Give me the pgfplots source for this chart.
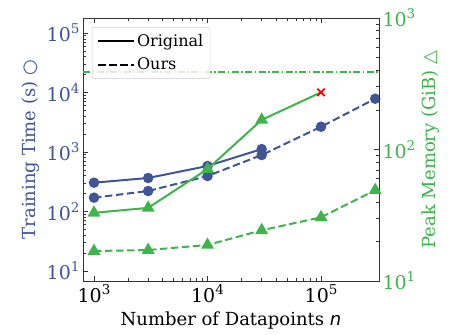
\documentclass[border=0pt]{standalone}
\usepackage{fontspec}
\setmainfont{DejaVu Serif}
\newfontfamily\symf{DejaVu Sans}
\usepackage{pgfplots}
\pgfplotsset{compat=1.18}
\definecolor{cblue}{HTML}{3F5597}
\definecolor{cgreen}{HTML}{3DB54B}
\newcommand\p[1]{10\raisebox{0.42em}{\fontsize{13.5bp}{14bp}\selectfont #1}}
\begin{document}
\begin{tikzpicture}
\path[use as bounding box] (-83bp,-54bp) rectangle (367bp,281bp);
\pgfplotsset{every axis/.append style={
  scale only axis, width=296bp, height=263bp,
  at={(0,0)}, anchor=south west,
  xmode=log, ymode=log, xmin=800, xmax=3.24e5,
  tick label style={font=\fontsize{19bp}{20bp}\selectfont},
  label style={font=\fontsize{18bp}{20bp}\selectfont},
  major tick length=5bp, minor tick length=2.8bp,
  axis line style={line width=0.8bp, black!80},
  every tick/.style={black!80, line width=0.6bp},
  xtick={1000,10000,100000}, xticklabels={\p{3},\p{4},\p{5}},
}}
\begin{axis}[
  ymin=6.79, ymax=1.79e5,
  ytick pos=left,
  ytick={10,100,1000,10000,100000},
  yticklabels={\p{1},\p{2},\p{3},\p{4},\p{5}},
  yticklabel style={text=cblue},
  xlabel={Number of Datapoints {\symf\itshape n}},
  xlabel style={yshift=-2bp},
  ylabel={Training Time (s) {\symf ○}},
  ylabel style={text=cblue},
]
\addplot[cblue, line width=2bp, mark=*, mark size=4.2bp] coordinates {
(1000,305) (3000,366) (10000,582) (30000,1120)};
\addplot[cblue, line width=2bp, dash pattern=on 7.5bp off 3.5bp, mark=*, mark size=4.2bp, mark options={solid}] coordinates {
(1000,171) (3000,221) (10000,395) (30000,890) (100000,2660) (300000,7870)};
\end{axis}
\begin{axis}[
  ymin=10, ymax=1000,
  axis y line*=right, axis x line=none,
  ytick={10,100,1000},
  yticklabels={\p{1},\p{2},\p{3}},
  yticklabel style={text=cgreen},
  ylabel={Peak Memory (GiB) {\symf △}},
  ylabel style={text=cgreen},
  legend style={at={(0.03,0.965)}, anchor=north west, draw=black!20, rounded corners=2bp,
    fill=white, fill opacity=0.8, text opacity=1, font=\fontsize{16bp}{18bp}\selectfont,
    inner xsep=5bp, inner ysep=5bp, row sep=6bp},
  legend cell align=left,
  legend image code/.code={\draw[#1] (0bp,0bp) -- (36bp,0bp);},
]
\addplot[cgreen, line width=1.3bp, dash pattern=on 7bp off 2.5bp on 1.5bp off 2.5bp, forget plot] coordinates {
(800,389) (324000,389)};
\addplot[cgreen, line width=2bp, mark=triangle*, mark size=5.5bp, forget plot] coordinates {
(1000,33) (3000,36) (10000,71) (30000,168)};
\addplot[cgreen, line width=2bp, forget plot] coordinates {(30000,168) (100000,272)};
\addplot[red, line width=1.8bp, only marks, mark=x, mark size=5.2bp, forget plot] coordinates {(100000,272)};
\addplot[cgreen, line width=2bp, dash pattern=on 7.5bp off 3.5bp, mark=triangle*, mark size=5.5bp, mark options={solid}, forget plot] coordinates {
(1000,16.9) (3000,17.2) (10000,18.8) (30000,24.3) (100000,30.5) (300000,49)};
\addlegendimage{black, line width=2bp}
\addlegendentry{Original}
\addlegendimage{black, line width=2bp, dash pattern=on 7.5bp off 3.5bp}
\addlegendentry{Ours}
\end{axis}
\end{tikzpicture}
\end{document}
